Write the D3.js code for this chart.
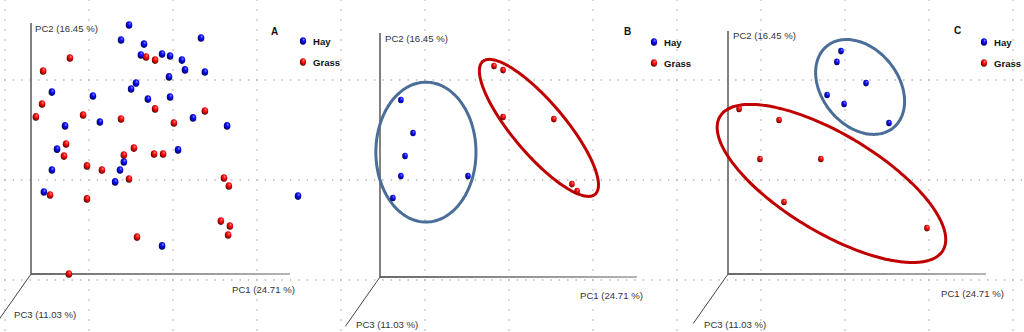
<!DOCTYPE html>
<html>
<head>
<meta charset="utf-8">
<script src="https://cdn.jsdelivr.net/npm/d3@7"></script>
<style>
  html, body { margin: 0; padding: 0; background: #fff; }
  svg { display: block; }
  .axis-title { font-family: "Liberation Sans", Arial, sans-serif; font-size: 9.6px; fill: #333; }
  .legend-text { font-family: "Liberation Sans", Arial, sans-serif; font-size: 9.6px; font-weight: bold; fill: #111; }
  .panel-letter { font-family: "Liberation Sans", Arial, sans-serif; font-size: 10px; font-weight: bold; fill: #111; }
</style>
</head>
<body>
<svg id="chart" width="1024" height="332"></svg>
<script>
// ---- data: PCoA scores (PC1, PC2), in plot units 0..100 ----
const groups = ["Hay", "Grass"];
const panelNames = ["A", "B", "C"];
const axisTitles = ["PC1 (24.71 %)", "PC2 (16.45 %)", "PC3 (11.03 %)"];

// Panel A: all samples
const hayA_pc1 = [38.0, 65.9, 34.9, 43.8, 42.6, 50.8, 53.9, 58.5, 59.7, 67.4, 53.5, 40.7, 38.8, 8.1, 24.0,
                  45.3, 53.9, 62.8, 13.2, 26.7, 76.0, 10.1, 57.0, 36.0, 8.1, 34.5, 32.6, 5.0, 103.5, 50.8];
const hayA_pc2 = [96.5, 91.5, 90.7, 89.1, 84.9, 85.3, 84.5, 82.9, 79.1, 78.3, 76.4, 74.0, 71.7, 70.5, 69.0,
                  67.8, 68.6, 60.5, 57.4, 58.9, 57.4, 48.4, 48.1, 43.4, 40.3, 40.3, 35.7, 31.8, 30.2, 10.9];
const grassA_pc1 = [15.1, 4.7, 44.6, 48.1, 4.3, 1.9, 20.2, 34.9, 48.1, 67.4, 55.4, 13.6, 12.8, 36.0, 39.9,
                    47.7, 51.2, 21.7, 27.5, 38.0, 74.8, 76.7, 7.4, 21.7, 73.6, 77.1, 76.4, 41.1, 14.7];
const grassA_pc2 = [83.7, 78.7, 84.1, 82.9, 65.9, 60.9, 61.6, 60.1, 64.0, 63.2, 58.5, 50.4, 45.7, 46.1, 48.8,
                    46.5, 46.5, 41.9, 40.3, 36.8, 37.2, 34.1, 30.6, 29.1, 20.5, 18.6, 15.1, 14.3, 0.0];

// Panel B
const hayB_pc1 = [8.1, 12.8, 9.7, 8.1, 5.0, 34.1];
const hayB_pc2 = [68.6, 55.8, 46.9, 39.1, 30.6, 39.1];
const grassB_pc1 = [44.2, 47.7, 47.7, 67.4, 74.4, 76.4];
const grassB_pc2 = [81.8, 80.2, 62.0, 61.2, 36.0, 33.3];

// Panel C
const hayC_pc1 = [43.8, 42.2, 53.5, 38.4, 45.0, 62.4];
const hayC_pc2 = [86.4, 82.2, 74.0, 69.4, 65.9, 58.5];
const grassC_pc1 = [4.3, 19.8, 12.4, 36.0, 21.7, 77.1];
const grassC_pc2 = [64.0, 59.7, 44.6, 44.6, 27.9, 17.8];

// Group ellipses: [centre PC1, centre PC2, semi-major, semi-minor, rotation in degrees]
const hayEllipseB = [17.8, 48.4, 19.4, 27.1, 0];
const grassEllipseB = [61.6, 57.8, 33.7, 10.1, -49.8];
const hayEllipseC = [51.2, 72.5, 20.4, 14.8, -51];
const grassEllipseC = [40.1, 35.1, 50.4, 19.0, -31];

// ---- layout ----
const W = 1024, H = 332;
const panels = [
  { name: panelNames[0], ox: 31, oy: 274, xLen: 100.4, yLen: 97.3,
    series: [[hayA_pc1, hayA_pc2], [grassA_pc1, grassA_pc2]], ellipses: [], r: [3.3, 3.8],
    pc2: [4, -242], pc1: [201, 19], pc3: [-17, 44], letter: [240, -239], legend: [272, -233] },
  { name: panelNames[1], ox: 380, oy: 277, xLen: 99.6, yLen: 94.6,
    series: [[hayB_pc1, hayB_pc2], [grassB_pc1, grassB_pc2]], ellipses: [hayEllipseB, grassEllipseB], r: [2.8, 3.3],
    pc2: [5, -235], pc1: [200, 22], pc3: [-24, 51], letter: [244, -242], legend: [274, -235] },
  { name: panelNames[2], ox: 728, oy: 274, xLen: 100, yLen: 94.2,
    series: [[hayC_pc1, hayC_pc2], [grassC_pc1, grassC_pc2]], ellipses: [hayEllipseC, grassEllipseC], r: [2.8, 3.3],
    pc2: [5, -235], pc1: [213, 23], pc3: [-24, 54], letter: [226, -240], legend: [256, -232] }
];
const pc3Dir = [-33, 47];

const colors = { Hay: ["#8a8aff", "#1414ff", "#0000a8", "#00002a"], Grass: ["#ff8a8a", "#ff1414", "#b00000", "#2a0000"] };
const ellipseColors = { Hay: "#4a6e97", Grass: "#c00000" };

const svg = d3.select("#chart");
const defs = svg.append("defs");

// sphere shading for the sample markers
groups.forEach(g => {
  const rg = defs.append("radialGradient").attr("id", "ball-" + g)
    .attr("cx", "58%").attr("cy", "40%").attr("r", "62%").attr("fx", "62%").attr("fy", "30%");
  const c = colors[g];
  rg.append("stop").attr("offset", "0%").attr("stop-color", c[0]);
  rg.append("stop").attr("offset", "35%").attr("stop-color", c[1]);
  rg.append("stop").attr("offset", "78%").attr("stop-color", c[2]);
  rg.append("stop").attr("offset", "100%").attr("stop-color", c[3]);
});
const axGrad = defs.append("linearGradient").attr("id", "xaxis-grad").attr("x1", "0%").attr("x2", "100%");
axGrad.append("stop").attr("offset", "0%").attr("stop-color", "#6a6a6a");
axGrad.append("stop").attr("offset", "100%").attr("stop-color", "#b4b4b4");

// background dotted grid
const grid = svg.append("g").attr("class", "grid");
d3.range(5, W, 84).forEach(gx => {
  grid.append("line").attr("x1", gx).attr("x2", gx).attr("y1", -0.7).attr("y2", H)
    .attr("stroke", "#b3b3b3").attr("stroke-width", 1.3).attr("stroke-dasharray", "1.4 8.6");
});
[80, 180, 280].forEach(gy => {
  grid.append("line").attr("x1", 4.3).attr("x2", W).attr("y1", gy).attr("y2", gy)
    .attr("stroke", "#b3b3b3").attr("stroke-width", 1.3).attr("stroke-dasharray", "1.4 7.0");
});

const x = d3.scaleLinear().domain([0, 100]).range([0, 258]);
const y = d3.scaleLinear().domain([0, 100]).range([0, -258]);

function ellipsePath(e) {
  const [cu, cv, a, b, deg] = e;
  const th = deg * Math.PI / 180;
  const pts = d3.range(0, 180).map(i => {
    const t = i / 180 * 2 * Math.PI;
    const u = cu + a * Math.cos(t) * Math.cos(th) - b * Math.sin(t) * Math.sin(th);
    const v = cv + a * Math.cos(t) * Math.sin(th) + b * Math.sin(t) * Math.cos(th);
    return [x(u), y(v)];
  });
  return d3.line().curve(d3.curveCardinalClosed)(pts);
}

panels.forEach(p => {
  const g = svg.append("g").attr("transform", `translate(${p.ox},${p.oy})`);

  // axes: PC2 vertical, PC1 horizontal, PC3 receding diagonal
  g.append("line").attr("x1", 0).attr("y1", 0).attr("x2", 0).attr("y2", y(p.yLen))
    .attr("stroke", "#808080").attr("stroke-width", 2);
  g.append("rect").attr("x", 0).attr("y", -1).attr("width", x(p.xLen)).attr("height", 2)
    .attr("fill", "url(#xaxis-grad)");
  g.append("line").attr("x1", 0).attr("y1", 0).attr("x2", pc3Dir[0] * 1.05).attr("y2", pc3Dir[1] * 1.05)
    .attr("stroke", "#444").attr("stroke-width", 1);

  g.append("text").attr("class", "axis-title").attr("x", p.pc2[0]).attr("y", p.pc2[1]).text(axisTitles[1]);
  g.append("text").attr("class", "axis-title").attr("x", p.pc1[0]).attr("y", p.pc1[1]).text(axisTitles[0]);
  g.append("text").attr("class", "axis-title").attr("x", p.pc3[0]).attr("y", p.pc3[1]).text(axisTitles[2]);

  // group ellipses
  p.ellipses.forEach((e, i) => {
    g.append("path").attr("d", ellipsePath(e)).attr("fill", "none")
      .attr("stroke", ellipseColors[groups[i]]).attr("stroke-width", 3);
  });

  // samples
  p.series.forEach((s, i) => {
    const [pc1, pc2] = s;
    g.append("g").selectAll("ellipse").data(pc1.map((v, k) => [v, pc2[k]])).join("ellipse")
      .attr("cx", d => x(d[0])).attr("cy", d => y(d[1]))
      .attr("rx", p.r[0]).attr("ry", p.r[1])
      .attr("fill", `url(#ball-${groups[i]})`);
  });

  // panel letter and legend
  g.append("text").attr("class", "panel-letter").attr("x", p.letter[0]).attr("y", p.letter[1]).text(p.name);
  const lg = g.append("g").attr("transform", `translate(${p.legend[0]},${p.legend[1]})`);
  groups.forEach((name, i) => {
    lg.append("ellipse").attr("cx", 0).attr("cy", i * 21).attr("rx", 3.1).attr("ry", 3.8)
      .attr("fill", `url(#ball-${name})`);
    lg.append("text").attr("class", "legend-text").attr("x", 10).attr("y", i * 21 + 3.5).text(name);
  });
});
</script>
</body>
</html>
